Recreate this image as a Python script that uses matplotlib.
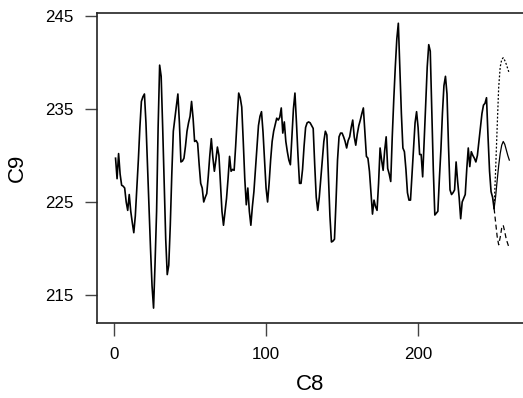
import numpy as np
import matplotlib
matplotlib.use("Agg")
import matplotlib.pyplot as plt

plt.rcParams['font.family'] = ['Liberation Sans', 'DejaVu Sans']

# observed series C9 (index 1..250)
c9 = [
    229.7, 227.5, 230.2, 228.0, 226.8, 226.7, 226.5, 225.0, 224.1, 225.8,
    224.0, 222.8, 221.7, 223.5, 226.5, 229.5, 233.0, 235.8, 236.3, 236.6,
    233.5, 229.0, 224.5, 220.0, 216.0, 213.6, 218.5, 224.0, 233.0, 239.7,
    238.5, 233.0, 227.0, 221.0, 217.2, 218.2, 222.5, 228.0, 232.6, 234.0,
    235.3, 236.6, 233.5, 229.3, 229.4, 229.7, 231.0, 232.6, 233.5, 234.2,
    235.8, 234.0, 231.5, 231.6, 231.3, 229.0, 227.0, 226.5, 225.0, 225.5,
    225.9, 227.8, 230.0, 231.8, 229.8, 228.3, 229.5, 230.9, 230.0, 227.0,
    224.0, 222.5, 224.0, 225.4, 227.5, 229.9, 228.3, 228.5, 228.4, 231.0,
    234.0, 236.7, 236.2, 235.2, 231.5, 227.5, 224.7, 226.5, 224.0, 222.5,
    224.5, 226.1, 228.5, 231.0, 233.2, 234.2, 234.7, 232.5, 229.5, 226.5,
    225.0, 227.0, 229.5, 231.5, 232.6, 233.3, 234.0, 233.8, 234.1, 235.1,
    232.4, 233.6, 231.5, 230.4, 229.5, 229.0, 232.0, 235.0, 236.7, 233.5,
    230.0, 227.0, 227.0, 228.5, 231.0, 233.0, 233.5, 233.6, 233.5, 233.2,
    232.9, 229.0, 225.5, 224.1, 225.5, 227.5, 229.5, 231.5, 232.6, 232.2,
    228.0, 223.5, 220.7, 220.8, 221.0, 225.0, 229.5, 232.0, 232.4, 232.4,
    232.0, 231.5, 230.8, 231.6, 232.0, 233.0, 233.8, 232.0, 231.1, 232.3,
    233.2, 233.8, 234.5, 235.1, 232.5, 229.9, 229.7, 228.3, 226.0, 223.7,
    225.2, 224.5, 224.1, 227.0, 230.8, 229.5, 228.4, 230.5, 232.0, 228.6,
    228.0, 227.2, 232.0, 236.0, 239.5, 242.5, 244.2, 239.5, 234.5, 230.8,
    230.4, 228.5, 226.0, 225.2, 225.2, 228.0, 231.0, 233.5, 234.7, 233.0,
    230.1, 230.1, 227.7, 231.5, 235.5, 239.5, 241.9, 241.2, 235.0, 228.5,
    223.6, 223.8, 224.0, 227.5, 230.6, 234.5, 237.5, 238.5, 236.6, 231.0,
    226.3, 225.8, 226.0, 226.3, 229.3, 227.2, 225.5, 223.2, 225.0, 225.4,
    225.8, 228.5, 230.8, 228.8, 230.4, 230.0, 229.7, 229.3, 230.0, 231.5,
    233.0, 234.5, 235.4, 235.6, 236.2, 232.0, 228.3, 226.1, 225.5, 224.3,
]
c8 = np.arange(1, len(c9) + 1)

# forecasts with limits (index 250..260, starting from last observation)
fc_x = np.arange(250, 261)
fc = [224.3, 225.6, 227.3, 228.9, 230.2, 231.1, 231.5, 231.2, 230.6, 230.0, 229.5]
fc_upper = [224.3, 228.5, 233.0, 237.3, 239.5, 240.3, 240.5, 240.2, 239.8, 239.3, 238.8]
fc_lower = [224.3, 222.8, 221.3, 220.4, 221.2, 222.2, 222.5, 221.8, 221.0, 220.5, 220.0]

fig = plt.figure(figsize=(5.23, 3.98), dpi=100)
ax = fig.add_axes([97 / 523, 1 - 323 / 398, (523 - 97) / 523, (323 - 13) / 398])

ax.plot(c8, c9, color="black", linewidth=1.2)
ax.plot(fc_x, fc, color="black", linewidth=0.9)
ax.plot(fc_x, fc_upper, color="black", linewidth=0.9, linestyle=(0, (1.5, 1.5)))
ax.plot(fc_x, fc_lower, color="black", linewidth=0.9, linestyle=(0, (4, 2.5)))

ax.set_xlim(-11.2, 269)
ax.set_ylim(212.0, 245.3)
ax.set_xticks([0, 100, 200])
ax.set_yticks([215, 225, 235, 245])

ax.spines['right'].set_visible(False)
for s in ['left', 'top', 'bottom']:
    ax.spines[s].set_linewidth(1.2)
    ax.spines[s].set_color("#222222")
ax.tick_params(axis='both', direction='out', length=9, width=1.0, color="#444444",
               labelsize=12.2, pad=8)

ax.set_xlabel("C8", fontsize=16, labelpad=9)
ax.set_ylabel("C9", fontsize=16, labelpad=12)

fig.savefig("out.png", dpi=100)
